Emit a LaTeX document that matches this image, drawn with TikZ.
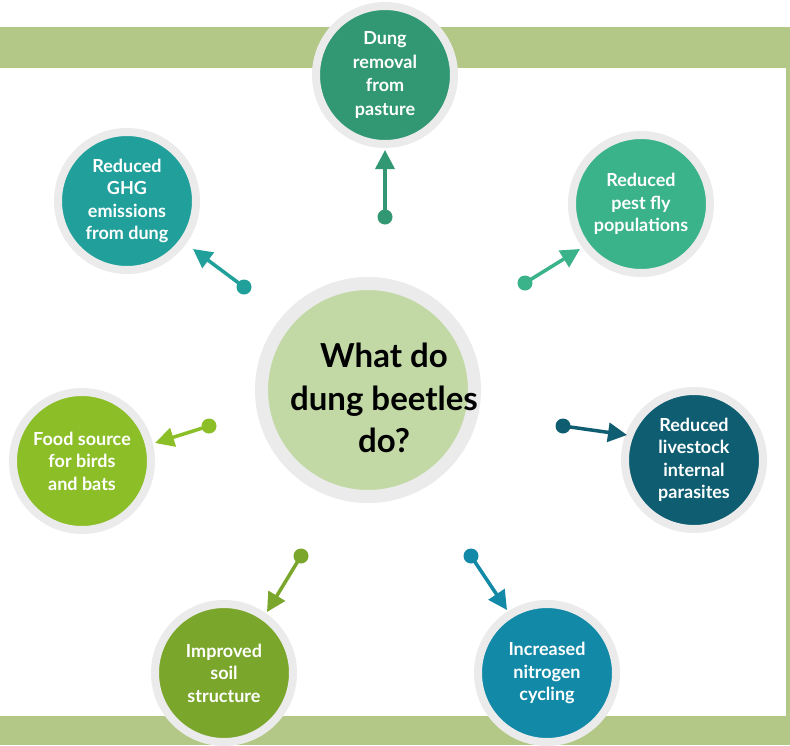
\documentclass[tikz,border=0pt]{standalone}
\usepackage{fontspec}
\setmainfont{Lato}
\usetikzlibrary{arrows.meta}
\definecolor{band}{HTML}{B3C886}
\definecolor{ringgray}{HTML}{EBEBEB}
\definecolor{hubgreen}{HTML}{C2D9A6}
\definecolor{cDung}{HTML}{329874}
\definecolor{cFly}{HTML}{3AB28A}
\definecolor{cGHG}{HTML}{21A09B}
\definecolor{cFood}{HTML}{8CBE28}
\definecolor{cPara}{HTML}{0E5D71}
\definecolor{cSoil}{HTML}{7BA62C}
\definecolor{cNitro}{HTML}{1389A8}
\tikzset{
  bubble/.style={circle, draw=ringgray, line width=8pt, minimum size=138pt, inner sep=0pt,
    fill=#1, text=white, align=center, font=\bfseries\fontsize{18}{22.5}\selectfont},
  hub/.style={circle, draw=ringgray, line width=13pt, minimum size=213pt, inner sep=0pt,
    fill=hubgreen},
  hubtext/.style={text=black, align=center, inner sep=0pt, font=\bfseries\fontsize{33}{42.5}\selectfont},
  dotnode/.style={circle, inner sep=0pt, minimum size=15pt, fill=#1},
  conn/.style={line width=3.5pt, draw=#1, -{Triangle[length=19pt,width=19pt]}}
}
\begin{document}
\begin{tikzpicture}[x=1pt,y=-1pt]
\useasboundingbox (0,0) rectangle (790,745);
% frame
\fill[band] (0,27) rectangle (790,745);
\fill[white] (0,68) rectangle (786,716);
% hub
\node[hub] (hub) at (368,390) {};
\node[hubtext] (hubtxt) at (384,398) {What do\\dung beetles\\do?};
% bubbles
\node[bubble=cDung, font=\bfseries\fontsize{18}{23.5}\selectfont] (dung) at (385,75) {Dung\\removal\\from\\pasture};
\node[bubble=cFly]   (fly)   at (641,204) {Reduced\\pest fly\\populations};
\node[bubble=cGHG]   (ghg)   at (127,201) {Reduced\\GHG\\emissions\\from dung};
\node[bubble=cFood]  (food)  at (82,461)  {Food source\\for birds\\and bats};
\node[bubble=cPara]  (para)  at (694,460) {Reduced\\livestock\\internal\\parasites};
\node[bubble=cSoil]  (soil)  at (224,673) {Improved\\soil\\structure};
\node[bubble=cNitro] (nitro) at (547,673) {Increased\\nitrogen\\cycling};
% dots
\node[dotnode=cDung]  (d1) at (385,217) {};
\node[dotnode=cFly]   (d2) at (525,283) {};
\node[dotnode=cGHG]   (d3) at (244,287) {};
\node[dotnode=cFood]  (d4) at (209,426) {};
\node[dotnode=cPara]  (d5) at (563,426) {};
\node[dotnode=cSoil]  (d6) at (301,556) {};
\node[dotnode=cNitro] (d7) at (471,556) {};
% arrow tips
\coordinate (t1) at (385,150);
\coordinate (t2) at (580,249);
\coordinate (t3) at (193,249);
\coordinate (t4) at (155,443);
\coordinate (t5) at (627,435);
\coordinate (t6) at (267,612);
\coordinate (t7) at (507,610);
% connectors
\draw[conn=cDung]  (d1.center) -- (t1);
\draw[conn=cFly]   (d2.center) -- (t2);
\draw[conn=cGHG]   (d3.center) -- (t3);
\draw[conn=cFood]  (d4.center) -- (t4);
\draw[conn=cPara]  (d5.center) -- (t5);
\draw[conn=cSoil]  (d6.center) -- (t6);
\draw[conn=cNitro] (d7.center) -- (t7);
\end{tikzpicture}
\end{document}
